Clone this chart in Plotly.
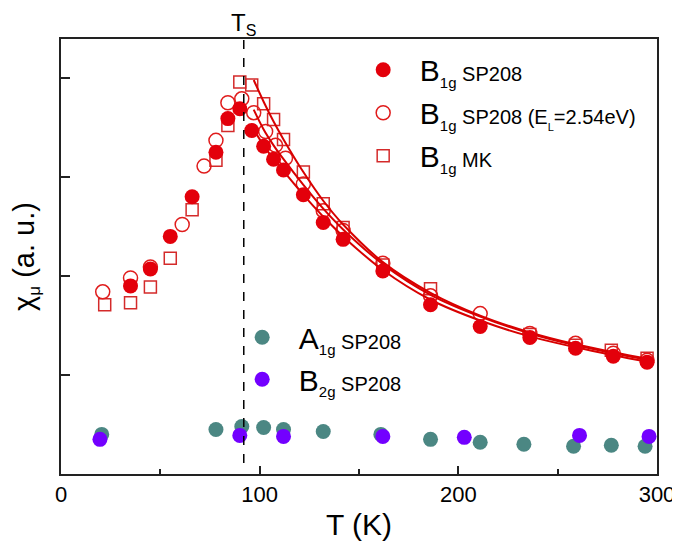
import plotly.graph_objects as go

# ---------------- data ----------------
T_sp208 = [35, 45, 55, 66, 78, 84, 90, 96, 102, 107, 112, 122, 132, 142, 162, 186, 211, 236, 259, 278, 295]
chi_sp208 = [1.90, 2.07, 2.40, 2.80, 3.25, 3.59, 3.69, 3.47, 3.31, 3.18, 3.07, 2.82, 2.54, 2.37, 2.05, 1.71, 1.49, 1.38, 1.27, 1.19, 1.13]

T_el = [21, 35, 45, 61, 72, 78, 84, 91, 97, 103, 108, 113, 122, 132, 142, 162, 186, 211, 236, 259, 278, 295]
chi_el = [1.84, 1.98, 2.09, 2.52, 3.11, 3.37, 3.75, 3.79, 3.65, 3.46, 3.32, 3.19, 2.93, 2.66, 2.46, 2.13, 1.80, 1.62, 1.42, 1.32, 1.22, 1.15]

T_mk = [22, 35, 45, 55, 66, 78, 84, 90, 96, 102, 107, 112, 122, 132, 142, 162, 186, 236, 259, 277, 295]
chi_mk = [1.71, 1.73, 1.89, 2.18, 2.67, 3.17, 3.52, 3.96, 3.93, 3.74, 3.58, 3.38, 3.05, 2.73, 2.49, 2.11, 1.87, 1.41, 1.30, 1.25, 1.17]

T_fit = [97, 102, 107, 112, 122, 132, 142, 162, 186, 211, 236, 259, 278, 296]
fit_mk = [3.98, 3.76, 3.56, 3.38, 3.05, 2.76, 2.52, 2.14, 1.83, 1.60, 1.43, 1.31, 1.23, 1.16]
fit_el = [3.68, 3.48, 3.32, 3.18, 2.92, 2.68, 2.47, 2.12, 1.81, 1.59, 1.42, 1.30, 1.22, 1.15]
fit_sp208 = [3.48, 3.32, 3.18, 3.06, 2.82, 2.60, 2.40, 2.06, 1.76, 1.55, 1.39, 1.28, 1.20, 1.13]

T_a1g = [20.5, 78, 91, 102, 112, 132, 161, 186, 211, 233, 258, 277, 294]
chi_a1g = [0.40, 0.45, 0.48, 0.47, 0.45, 0.43, 0.40, 0.35, 0.32, 0.30, 0.28, 0.29, 0.28]

T_b2g = [19.6, 90, 112, 162, 203, 261, 296]
chi_b2g = [0.35, 0.39, 0.38, 0.38, 0.37, 0.39, 0.38]

T_s = 92  # structural transition temperature
x_ticks = [0, 100, 200, 300]
x_minor = [50, 150, 250]
y_ticks = [1, 2, 3, 4]

RED = "#e3000b"
RED_OPEN = "#e01c1c"
RED_SQ = "#d42a2a"
TEAL = "#4b8783"
PURPLE = "#7300ff"

FONT = "Liberation Sans, Arial, sans-serif"

NB = "\u00a0\u00a0"


def lab(main, sub, rest):
    return (f"{NB}{main}<sub><span style='font-size:15px'>{sub}</span></sub>"
            f"<span style='font-size:20px'>{rest}</span>")


fig = go.Figure()

fig.add_trace(go.Scatter(
    x=T_mk, y=chi_mk, mode="markers", name=lab("B", "1g", "\u00a0MK"),
    legend="legend", legendrank=3, legendgroup="mk",
    marker=dict(symbol="square-open", size=12, color=RED_SQ, line=dict(width=1.5, color=RED_SQ))))
fig.add_trace(go.Scatter(
    x=T_el, y=chi_el, mode="markers",
    name=(f"{NB}B<sub><span style='font-size:15px'>1g</span></sub>"
          f"<span style='font-size:20px'>\u00a0SP208 (E</span><sub><span style='font-size:11px'>L</span></sub>"
          f"<span style='font-size:20px'>=2.54eV)</span>"),
    legend="legend", legendrank=2, legendgroup="el",
    marker=dict(symbol="circle-open", size=14, color=RED_OPEN, line=dict(width=1.5, color=RED_OPEN))))

for fy in (fit_mk, fit_el, fit_sp208):
    fig.add_trace(go.Scatter(x=T_fit, y=fy, mode="lines", showlegend=False,
                             line=dict(color="#d80000", width=2, shape="spline"), hoverinfo="skip"))

fig.add_trace(go.Scatter(
    x=T_sp208, y=chi_sp208, mode="markers", name=lab("B", "1g", "\u00a0SP208"),
    legend="legend", legendrank=1, legendgroup="sp",
    marker=dict(symbol="circle", size=15, color=RED)))

fig.add_trace(go.Scatter(
    x=T_a1g, y=chi_a1g, mode="markers", name=lab("A", "1g", "\u00a0SP208"),
    legend="legend2", legendrank=1, legendgroup="a1g",
    marker=dict(symbol="circle", size=15, color=TEAL)))
fig.add_trace(go.Scatter(
    x=T_b2g, y=chi_b2g, mode="markers", name=lab("B", "2g", "\u00a0SP208"),
    legend="legend2", legendrank=2, legendgroup="b2g",
    marker=dict(symbol="circle", size=15, color=PURPLE)))

fig.add_shape(type="line", xref="x", yref="y", x0=T_s, x1=T_s, y0=0.11, y1=4.394,
              line=dict(color="black", width=1.5, dash="dash"))

fig.add_annotation(x=T_s, xref="x", y=1, yref="paper", yanchor="bottom", yshift=-1,
                   text="T<sub><span style='font-size:16px'>S</span></sub>", showarrow=False,
                   borderpad=0, font=dict(family=FONT, size=24, color="black"))

# the page body adds an 8 px offset; margins compensate so the frame sits at the reference pixels
fig.update_layout(
    width=680, height=548,
    margin=dict(l=53, r=31, t=31, b=82),
    plot_bgcolor="white", paper_bgcolor="white",
    font=dict(family=FONT, color="black"),
    legend=dict(x=0.507, y=0.989, xanchor="left", yanchor="top", bgcolor="rgba(0,0,0,0)",
                font=dict(size=30, family=FONT), traceorder="grouped", tracegroupgap=1,
                itemwidth=30),
    legend2=dict(x=0.304, y=0.374, xanchor="left", yanchor="top", bgcolor="rgba(0,0,0,0)",
                 font=dict(size=30, family=FONT), traceorder="grouped", tracegroupgap=0,
                 itemwidth=30),
    xaxis=dict(range=[0, 300], tickvals=x_ticks, ticks="inside", ticklen=8, tickwidth=1.5,
               tickcolor="#222", showline=True, linecolor="#222", linewidth=2, mirror=True,
               showgrid=False, zeroline=False, tickfont=dict(size=22, family=FONT),
               automargin=False,
               minor=dict(tickvals=x_minor, ticks="inside", ticklen=5, tickwidth=1.5,
                          tickcolor="#222", showgrid=False),
               title=dict(text="T (K)", font=dict(size=30, family=FONT), standoff=8)),
    yaxis=dict(range=[0, 4.394], tickvals=y_ticks, ticks="inside", ticklen=9, tickwidth=1.5,
               tickcolor="#222", showticklabels=False, showline=True, linecolor="#222",
               linewidth=2, mirror=True, showgrid=False, zeroline=False, automargin=False,
               title=dict(text="χ<sub><span style='font-size:17px'>μ</span></sub> (a. u.)",
                          font=dict(size=29, family=FONT), standoff=18)),
)

fig.write_html("out.html")
